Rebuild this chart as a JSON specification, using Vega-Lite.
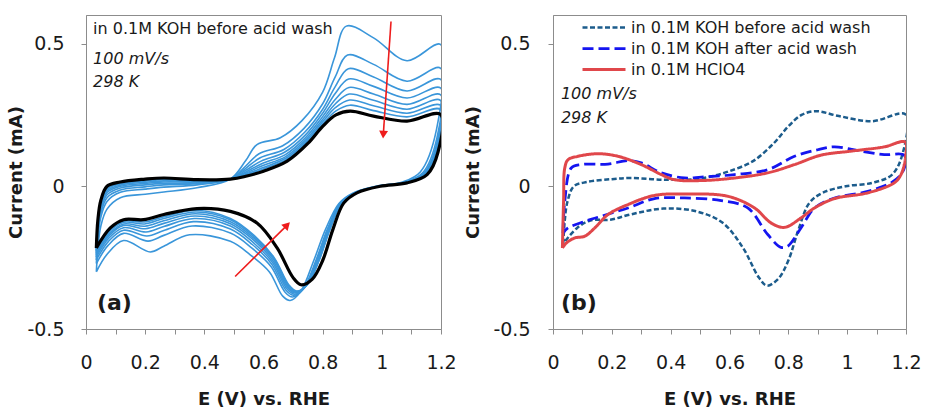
{
"$schema":"https://vega.github.io/schema/vega-lite/v6.json",
"padding":{"left":7,"top":14,"right":2,"bottom":0},
"spacing":7,
"config":{
 "font":"DejaVu Sans",
 "view":{"stroke":"#8c8c8c","strokeWidth":1},
 "axis":{"grid":false,"labelFlush":false,"domainColor":"#8c8c8c","tickColor":"#8c8c8c","tickSize":5,"labelFont":"DejaVu Sans","labelFontSize":19,"labelColor":"#1a1a1a","titleFont":"DejaVu Sans","titleFontSize":18,"titleFontWeight":"bold","titleColor":"#1a1a1a"},
 "legend":{"symbolType":"stroke","symbolSize":1849,"clipHeight":21,"rowPadding":0,"labelOffset":4,"labelFontSize":16,"labelFont":"DejaVu Sans","labelColor":"#1a1a1a","padding":0,"labelLimit":400}
},
"datasets":{
"cyc":[
{"c":"1","i":0,"x":0.035,"y":-0.3},{"c":"1","i":1,"x":0.04,"y":-0.22},{"c":"1","i":2,"x":0.05,"y":-0.14},{"c":"1","i":3,"x":0.071,"y":-0.08},{"c":"1","i":4,"x":0.116,"y":-0.04},{"c":"1","i":5,"x":0.2,"y":-0.028},{"c":"1","i":6,"x":0.263,"y":-0.02},{"c":"1","i":7,"x":0.375,"y":-0.005},{"c":"1","i":8,"x":0.488,"y":0.025},{"c":"1","i":9,"x":0.54,"y":0.09},{"c":"1","i":10,"x":0.578,"y":0.146},{"c":"1","i":11,"x":0.657,"y":0.17},{"c":"1","i":12,"x":0.73,"y":0.23},{"c":"1","i":13,"x":0.8,"y":0.33},{"c":"1","i":14,"x":0.84,"y":0.45},{"c":"1","i":15,"x":0.88,"y":0.561},{"c":"1","i":16,"x":0.972,"y":0.52},{"c":"1","i":17,"x":1.085,"y":0.44},{"c":"1","i":18,"x":1.198,"y":0.497},{"c":"1","i":19,"x":1.185,"y":0.2},{"c":"1","i":20,"x":1.13,"y":0.05},{"c":"1","i":21,"x":1.07,"y":0.015},{"c":"1","i":22,"x":0.98,"y":0},{"c":"1","i":23,"x":0.9,"y":-0.025},{"c":"1","i":24,"x":0.855,"y":-0.06},{"c":"1","i":25,"x":0.81,"y":-0.15},{"c":"1","i":26,"x":0.77,"y":-0.26},{"c":"1","i":27,"x":0.725,"y":-0.37},{"c":"1","i":28,"x":0.69,"y":-0.4},{"c":"1","i":29,"x":0.665,"y":-0.385},{"c":"1","i":30,"x":0.62,"y":-0.3},{"c":"1","i":31,"x":0.555,"y":-0.24},{"c":"1","i":32,"x":0.488,"y":-0.193},{"c":"1","i":33,"x":0.35,"y":-0.17},{"c":"1","i":34,"x":0.263,"y":-0.21},{"c":"1","i":35,"x":0.217,"y":-0.23},{"c":"1","i":36,"x":0.127,"y":-0.19},{"c":"1","i":37,"x":0.07,"y":-0.24},{"c":"1","i":38,"x":0.035,"y":-0.3},
{"c":"2","i":0,"x":0.035,"y":-0.271},{"c":"2","i":1,"x":0.04,"y":-0.186},{"c":"2","i":2,"x":0.05,"y":-0.109},{"c":"2","i":3,"x":0.071,"y":-0.053},{"c":"2","i":4,"x":0.116,"y":-0.021},{"c":"2","i":5,"x":0.2,"y":-0.01},{"c":"2","i":6,"x":0.263,"y":-0.003},{"c":"2","i":7,"x":0.375,"y":0.005},{"c":"2","i":8,"x":0.488,"y":0.025},{"c":"2","i":9,"x":0.54,"y":0.071},{"c":"2","i":10,"x":0.585,"y":0.114},{"c":"2","i":11,"x":0.665,"y":0.142},{"c":"2","i":12,"x":0.737,"y":0.203},{"c":"2","i":13,"x":0.8,"y":0.289},{"c":"2","i":14,"x":0.842,"y":0.382},{"c":"2","i":15,"x":0.884,"y":0.46},{"c":"2","i":16,"x":0.972,"y":0.427},{"c":"2","i":17,"x":1.085,"y":0.368},{"c":"2","i":18,"x":1.198,"y":0.414},{"c":"2","i":19,"x":1.187,"y":0.173},{"c":"2","i":20,"x":1.138,"y":0.047},{"c":"2","i":21,"x":1.075,"y":0.014},{"c":"2","i":22,"x":0.985,"y":0},{"c":"2","i":23,"x":0.905,"y":-0.024},{"c":"2","i":24,"x":0.859,"y":-0.059},{"c":"2","i":25,"x":0.816,"y":-0.15},{"c":"2","i":26,"x":0.777,"y":-0.26},{"c":"2","i":27,"x":0.734,"y":-0.36},{"c":"2","i":28,"x":0.698,"y":-0.388},{"c":"2","i":29,"x":0.673,"y":-0.371},{"c":"2","i":30,"x":0.626,"y":-0.282},{"c":"2","i":31,"x":0.56,"y":-0.216},{"c":"2","i":32,"x":0.488,"y":-0.164},{"c":"2","i":33,"x":0.359,"y":-0.139},{"c":"2","i":34,"x":0.263,"y":-0.172},{"c":"2","i":35,"x":0.21,"y":-0.192},{"c":"2","i":36,"x":0.127,"y":-0.165},{"c":"2","i":37,"x":0.074,"y":-0.208},{"c":"2","i":38,"x":0.035,"y":-0.271},
{"c":"3","i":0,"x":0.035,"y":-0.258},{"c":"3","i":1,"x":0.04,"y":-0.17},{"c":"3","i":2,"x":0.05,"y":-0.095},{"c":"3","i":3,"x":0.071,"y":-0.04},{"c":"3","i":4,"x":0.116,"y":-0.013},{"c":"3","i":5,"x":0.2,"y":-0.002},{"c":"3","i":6,"x":0.263,"y":0.005},{"c":"3","i":7,"x":0.375,"y":0.009},{"c":"3","i":8,"x":0.488,"y":0.025},{"c":"3","i":9,"x":0.54,"y":0.063},{"c":"3","i":10,"x":0.589,"y":0.1},{"c":"3","i":11,"x":0.669,"y":0.129},{"c":"3","i":12,"x":0.74,"y":0.19},{"c":"3","i":13,"x":0.8,"y":0.27},{"c":"3","i":14,"x":0.843,"y":0.35},{"c":"3","i":15,"x":0.887,"y":0.412},{"c":"3","i":16,"x":0.972,"y":0.383},{"c":"3","i":17,"x":1.085,"y":0.334},{"c":"3","i":18,"x":1.198,"y":0.375},{"c":"3","i":19,"x":1.188,"y":0.16},{"c":"3","i":20,"x":1.142,"y":0.046},{"c":"3","i":21,"x":1.078,"y":0.014},{"c":"3","i":22,"x":0.988,"y":0},{"c":"3","i":23,"x":0.908,"y":-0.024},{"c":"3","i":24,"x":0.86,"y":-0.059},{"c":"3","i":25,"x":0.818,"y":-0.15},{"c":"3","i":26,"x":0.78,"y":-0.26},{"c":"3","i":27,"x":0.738,"y":-0.356},{"c":"3","i":28,"x":0.702,"y":-0.382},{"c":"3","i":29,"x":0.676,"y":-0.364},{"c":"3","i":30,"x":0.628,"y":-0.273},{"c":"3","i":31,"x":0.562,"y":-0.204},{"c":"3","i":32,"x":0.488,"y":-0.15},{"c":"3","i":33,"x":0.363,"y":-0.124},{"c":"3","i":34,"x":0.263,"y":-0.155},{"c":"3","i":35,"x":0.206,"y":-0.174},{"c":"3","i":36,"x":0.127,"y":-0.154},{"c":"3","i":37,"x":0.076,"y":-0.193},{"c":"3","i":38,"x":0.035,"y":-0.258},
{"c":"4","i":0,"x":0.035,"y":-0.248},{"c":"4","i":1,"x":0.04,"y":-0.158},{"c":"4","i":2,"x":0.05,"y":-0.084},{"c":"4","i":3,"x":0.071,"y":-0.03},{"c":"4","i":4,"x":0.116,"y":-0.006},{"c":"4","i":5,"x":0.2,"y":0.005},{"c":"4","i":6,"x":0.263,"y":0.01},{"c":"4","i":7,"x":0.375,"y":0.012},{"c":"4","i":8,"x":0.488,"y":0.025},{"c":"4","i":9,"x":0.54,"y":0.056},{"c":"4","i":10,"x":0.592,"y":0.088},{"c":"4","i":11,"x":0.671,"y":0.119},{"c":"4","i":12,"x":0.742,"y":0.18},{"c":"4","i":13,"x":0.8,"y":0.256},{"c":"4","i":14,"x":0.843,"y":0.326},{"c":"4","i":15,"x":0.888,"y":0.376},{"c":"4","i":16,"x":0.972,"y":0.35},{"c":"4","i":17,"x":1.085,"y":0.309},{"c":"4","i":18,"x":1.198,"y":0.345},{"c":"4","i":19,"x":1.188,"y":0.15},{"c":"4","i":20,"x":1.144,"y":0.044},{"c":"4","i":21,"x":1.079,"y":0.013},{"c":"4","i":22,"x":0.989,"y":0},{"c":"4","i":23,"x":0.91,"y":-0.024},{"c":"4","i":24,"x":0.861,"y":-0.059},{"c":"4","i":25,"x":0.82,"y":-0.15},{"c":"4","i":26,"x":0.782,"y":-0.26},{"c":"4","i":27,"x":0.741,"y":-0.352},{"c":"4","i":28,"x":0.705,"y":-0.378},{"c":"4","i":29,"x":0.679,"y":-0.359},{"c":"4","i":30,"x":0.63,"y":-0.266},{"c":"4","i":31,"x":0.564,"y":-0.196},{"c":"4","i":32,"x":0.488,"y":-0.139},{"c":"4","i":33,"x":0.366,"y":-0.113},{"c":"4","i":34,"x":0.263,"y":-0.141},{"c":"4","i":35,"x":0.203,"y":-0.16},{"c":"4","i":36,"x":0.127,"y":-0.145},{"c":"4","i":37,"x":0.077,"y":-0.182},{"c":"4","i":38,"x":0.035,"y":-0.248},
{"c":"5","i":0,"x":0.035,"y":-0.24},{"c":"5","i":1,"x":0.04,"y":-0.148},{"c":"5","i":2,"x":0.05,"y":-0.075},{"c":"5","i":3,"x":0.071,"y":-0.022},{"c":"5","i":4,"x":0.116,"y":0},{"c":"5","i":5,"x":0.2,"y":0.01},{"c":"5","i":6,"x":0.263,"y":0.015},{"c":"5","i":7,"x":0.375,"y":0.015},{"c":"5","i":8,"x":0.488,"y":0.025},{"c":"5","i":9,"x":0.54,"y":0.05},{"c":"5","i":10,"x":0.594,"y":0.079},{"c":"5","i":11,"x":0.674,"y":0.111},{"c":"5","i":12,"x":0.744,"y":0.172},{"c":"5","i":13,"x":0.8,"y":0.244},{"c":"5","i":14,"x":0.844,"y":0.306},{"c":"5","i":15,"x":0.889,"y":0.346},{"c":"5","i":16,"x":0.972,"y":0.323},{"c":"5","i":17,"x":1.085,"y":0.287},{"c":"5","i":18,"x":1.198,"y":0.321},{"c":"5","i":19,"x":1.189,"y":0.142},{"c":"5","i":20,"x":1.147,"y":0.044},{"c":"5","i":21,"x":1.081,"y":0.013},{"c":"5","i":22,"x":0.991,"y":0},{"c":"5","i":23,"x":0.912,"y":-0.024},{"c":"5","i":24,"x":0.863,"y":-0.059},{"c":"5","i":25,"x":0.822,"y":-0.15},{"c":"5","i":26,"x":0.784,"y":-0.26},{"c":"5","i":27,"x":0.744,"y":-0.349},{"c":"5","i":28,"x":0.707,"y":-0.374},{"c":"5","i":29,"x":0.681,"y":-0.354},{"c":"5","i":30,"x":0.632,"y":-0.261},{"c":"5","i":31,"x":0.566,"y":-0.188},{"c":"5","i":32,"x":0.488,"y":-0.131},{"c":"5","i":33,"x":0.368,"y":-0.104},{"c":"5","i":34,"x":0.263,"y":-0.13},{"c":"5","i":35,"x":0.201,"y":-0.149},{"c":"5","i":36,"x":0.127,"y":-0.137},{"c":"5","i":37,"x":0.079,"y":-0.172},{"c":"5","i":38,"x":0.035,"y":-0.24},
{"c":"6","i":0,"x":0.035,"y":-0.233},{"c":"6","i":1,"x":0.04,"y":-0.14},{"c":"6","i":2,"x":0.05,"y":-0.068},{"c":"6","i":3,"x":0.071,"y":-0.016},{"c":"6","i":4,"x":0.116,"y":0.004},{"c":"6","i":5,"x":0.2,"y":0.014},{"c":"6","i":6,"x":0.263,"y":0.019},{"c":"6","i":7,"x":0.375,"y":0.017},{"c":"6","i":8,"x":0.488,"y":0.025},{"c":"6","i":9,"x":0.54,"y":0.046},{"c":"6","i":10,"x":0.596,"y":0.072},{"c":"6","i":11,"x":0.675,"y":0.104},{"c":"6","i":12,"x":0.746,"y":0.166},{"c":"6","i":13,"x":0.8,"y":0.234},{"c":"6","i":14,"x":0.844,"y":0.29},{"c":"6","i":15,"x":0.89,"y":0.323},{"c":"6","i":16,"x":0.972,"y":0.301},{"c":"6","i":17,"x":1.085,"y":0.27},{"c":"6","i":18,"x":1.198,"y":0.301},{"c":"6","i":19,"x":1.189,"y":0.136},{"c":"6","i":20,"x":1.148,"y":0.043},{"c":"6","i":21,"x":1.082,"y":0.013},{"c":"6","i":22,"x":0.992,"y":0},{"c":"6","i":23,"x":0.913,"y":-0.024},{"c":"6","i":24,"x":0.863,"y":-0.059},{"c":"6","i":25,"x":0.823,"y":-0.15},{"c":"6","i":26,"x":0.786,"y":-0.26},{"c":"6","i":27,"x":0.746,"y":-0.347},{"c":"6","i":28,"x":0.709,"y":-0.371},{"c":"6","i":29,"x":0.683,"y":-0.351},{"c":"6","i":30,"x":0.634,"y":-0.256},{"c":"6","i":31,"x":0.567,"y":-0.182},{"c":"6","i":32,"x":0.488,"y":-0.124},{"c":"6","i":33,"x":0.37,"y":-0.096},{"c":"6","i":34,"x":0.263,"y":-0.121},{"c":"6","i":35,"x":0.199,"y":-0.14},{"c":"6","i":36,"x":0.127,"y":-0.132},{"c":"6","i":37,"x":0.08,"y":-0.165},{"c":"6","i":38,"x":0.035,"y":-0.233},
{"c":"7","i":0,"x":0.035,"y":-0.227},{"c":"7","i":1,"x":0.04,"y":-0.133},{"c":"7","i":2,"x":0.05,"y":-0.062},{"c":"7","i":3,"x":0.071,"y":-0.01},{"c":"7","i":4,"x":0.116,"y":0.008},{"c":"7","i":5,"x":0.2,"y":0.018},{"c":"7","i":6,"x":0.263,"y":0.023},{"c":"7","i":7,"x":0.375,"y":0.019},{"c":"7","i":8,"x":0.488,"y":0.025},{"c":"7","i":9,"x":0.54,"y":0.042},{"c":"7","i":10,"x":0.597,"y":0.065},{"c":"7","i":11,"x":0.677,"y":0.099},{"c":"7","i":12,"x":0.747,"y":0.16},{"c":"7","i":13,"x":0.8,"y":0.226},{"c":"7","i":14,"x":0.844,"y":0.276},{"c":"7","i":15,"x":0.891,"y":0.302},{"c":"7","i":16,"x":0.972,"y":0.282},{"c":"7","i":17,"x":1.085,"y":0.256},{"c":"7","i":18,"x":1.198,"y":0.284},{"c":"7","i":19,"x":1.189,"y":0.13},{"c":"7","i":20,"x":1.15,"y":0.042},{"c":"7","i":21,"x":1.083,"y":0.012},{"c":"7","i":22,"x":0.993,"y":0},{"c":"7","i":23,"x":0.914,"y":-0.024},{"c":"7","i":24,"x":0.864,"y":-0.059},{"c":"7","i":25,"x":0.824,"y":-0.15},{"c":"7","i":26,"x":0.787,"y":-0.26},{"c":"7","i":27,"x":0.748,"y":-0.344},{"c":"7","i":28,"x":0.711,"y":-0.369},{"c":"7","i":29,"x":0.685,"y":-0.348},{"c":"7","i":30,"x":0.635,"y":-0.252},{"c":"7","i":31,"x":0.568,"y":-0.177},{"c":"7","i":32,"x":0.488,"y":-0.117},{"c":"7","i":33,"x":0.372,"y":-0.09},{"c":"7","i":34,"x":0.263,"y":-0.113},{"c":"7","i":35,"x":0.198,"y":-0.132},{"c":"7","i":36,"x":0.127,"y":-0.126},{"c":"7","i":37,"x":0.08,"y":-0.158},{"c":"7","i":38,"x":0.035,"y":-0.227},
{"c":"8","i":0,"x":0.035,"y":-0.222},{"c":"8","i":1,"x":0.04,"y":-0.127},{"c":"8","i":2,"x":0.05,"y":-0.056},{"c":"8","i":3,"x":0.071,"y":-0.006},{"c":"8","i":4,"x":0.116,"y":0.011},{"c":"8","i":5,"x":0.2,"y":0.021},{"c":"8","i":6,"x":0.263,"y":0.026},{"c":"8","i":7,"x":0.375,"y":0.021},{"c":"8","i":8,"x":0.488,"y":0.025},{"c":"8","i":9,"x":0.54,"y":0.039},{"c":"8","i":10,"x":0.598,"y":0.06},{"c":"8","i":11,"x":0.678,"y":0.094},{"c":"8","i":12,"x":0.749,"y":0.156},{"c":"8","i":13,"x":0.8,"y":0.218},{"c":"8","i":14,"x":0.845,"y":0.264},{"c":"8","i":15,"x":0.892,"y":0.284},{"c":"8","i":16,"x":0.972,"y":0.265},{"c":"8","i":17,"x":1.085,"y":0.243},{"c":"8","i":18,"x":1.198,"y":0.269},{"c":"8","i":19,"x":1.19,"y":0.126},{"c":"8","i":20,"x":1.151,"y":0.042},{"c":"8","i":21,"x":1.084,"y":0.012},{"c":"8","i":22,"x":0.994,"y":0},{"c":"8","i":23,"x":0.915,"y":-0.024},{"c":"8","i":24,"x":0.865,"y":-0.059},{"c":"8","i":25,"x":0.825,"y":-0.15},{"c":"8","i":26,"x":0.788,"y":-0.26},{"c":"8","i":27,"x":0.749,"y":-0.343},{"c":"8","i":28,"x":0.712,"y":-0.367},{"c":"8","i":29,"x":0.686,"y":-0.346},{"c":"8","i":30,"x":0.636,"y":-0.25},{"c":"8","i":31,"x":0.569,"y":-0.173},{"c":"8","i":32,"x":0.488,"y":-0.113},{"c":"8","i":33,"x":0.373,"y":-0.084},{"c":"8","i":34,"x":0.263,"y":-0.107},{"c":"8","i":35,"x":0.197,"y":-0.125},{"c":"8","i":36,"x":0.127,"y":-0.122},{"c":"8","i":37,"x":0.081,"y":-0.153},{"c":"8","i":38,"x":0.035,"y":-0.222},
{"c":"k","i":0,"x":0.035,"y":-0.216},{"c":"k","i":1,"x":0.04,"y":-0.12},{"c":"k","i":2,"x":0.05,"y":-0.05},{"c":"k","i":3,"x":0.071,"y":0},{"c":"k","i":4,"x":0.116,"y":0.015},{"c":"k","i":5,"x":0.2,"y":0.025},{"c":"k","i":6,"x":0.263,"y":0.029},{"c":"k","i":7,"x":0.375,"y":0.023},{"c":"k","i":8,"x":0.488,"y":0.025},{"c":"k","i":9,"x":0.54,"y":0.035},{"c":"k","i":10,"x":0.6,"y":0.053},{"c":"k","i":11,"x":0.68,"y":0.088},{"c":"k","i":12,"x":0.75,"y":0.15},{"c":"k","i":13,"x":0.8,"y":0.21},{"c":"k","i":14,"x":0.845,"y":0.25},{"c":"k","i":15,"x":0.893,"y":0.263},{"c":"k","i":16,"x":0.972,"y":0.246},{"c":"k","i":17,"x":1.085,"y":0.228},{"c":"k","i":18,"x":1.198,"y":0.252},{"c":"k","i":19,"x":1.19,"y":0.12},{"c":"k","i":20,"x":1.153,"y":0.041},{"c":"k","i":21,"x":1.085,"y":0.012},{"c":"k","i":22,"x":0.995,"y":0},{"c":"k","i":23,"x":0.916,"y":-0.023},{"c":"k","i":24,"x":0.871,"y":-0.059},{"c":"k","i":25,"x":0.835,"y":-0.15},{"c":"k","i":26,"x":0.8,"y":-0.26},{"c":"k","i":27,"x":0.765,"y":-0.325},{"c":"k","i":28,"x":0.727,"y":-0.345},{"c":"k","i":29,"x":0.7,"y":-0.32},{"c":"k","i":30,"x":0.646,"y":-0.216},{"c":"k","i":31,"x":0.578,"y":-0.129},{"c":"k","i":32,"x":0.488,"y":-0.088},{"c":"k","i":33,"x":0.375,"y":-0.078},{"c":"k","i":34,"x":0.263,"y":-0.099},{"c":"k","i":35,"x":0.195,"y":-0.117},{"c":"k","i":36,"x":0.127,"y":-0.117},{"c":"k","i":37,"x":0.082,"y":-0.146},{"c":"k","i":38,"x":0.035,"y":-0.216}
],
"cmp":[
{"s":"b","i":0,"x":0.035,"y":-0.2},{"s":"b","i":1,"x":0.04,"y":-0.12},{"s":"b","i":2,"x":0.05,"y":-0.05},{"s":"b","i":3,"x":0.071,"y":0},{"s":"b","i":4,"x":0.116,"y":0.015},{"s":"b","i":5,"x":0.2,"y":0.025},{"s":"b","i":6,"x":0.263,"y":0.029},{"s":"b","i":7,"x":0.375,"y":0.023},{"s":"b","i":8,"x":0.488,"y":0.025},{"s":"b","i":9,"x":0.54,"y":0.035},{"s":"b","i":10,"x":0.6,"y":0.053},{"s":"b","i":11,"x":0.68,"y":0.088},{"s":"b","i":12,"x":0.75,"y":0.15},{"s":"b","i":13,"x":0.8,"y":0.21},{"s":"b","i":14,"x":0.845,"y":0.25},{"s":"b","i":15,"x":0.893,"y":0.263},{"s":"b","i":16,"x":0.972,"y":0.246},{"s":"b","i":17,"x":1.085,"y":0.228},{"s":"b","i":18,"x":1.198,"y":0.252},{"s":"b","i":19,"x":1.19,"y":0.12},{"s":"b","i":20,"x":1.153,"y":0.041},{"s":"b","i":21,"x":1.085,"y":0.012},{"s":"b","i":22,"x":0.995,"y":0},{"s":"b","i":23,"x":0.916,"y":-0.023},{"s":"b","i":24,"x":0.871,"y":-0.059},{"s":"b","i":25,"x":0.835,"y":-0.15},{"s":"b","i":26,"x":0.8,"y":-0.26},{"s":"b","i":27,"x":0.765,"y":-0.325},{"s":"b","i":28,"x":0.727,"y":-0.348},{"s":"b","i":29,"x":0.7,"y":-0.32},{"s":"b","i":30,"x":0.646,"y":-0.216},{"s":"b","i":31,"x":0.578,"y":-0.129},{"s":"b","i":32,"x":0.488,"y":-0.088},{"s":"b","i":33,"x":0.375,"y":-0.078},{"s":"b","i":34,"x":0.263,"y":-0.099},{"s":"b","i":35,"x":0.195,"y":-0.117},{"s":"b","i":36,"x":0.127,"y":-0.12},{"s":"b","i":37,"x":0.082,"y":-0.146},{"s":"b","i":38,"x":0.035,"y":-0.2},
{"s":"a","i":0,"x":0.034,"y":-0.164},{"s":"a","i":1,"x":0.04,"y":-0.053},{"s":"a","i":2,"x":0.062,"y":0.064},{"s":"a","i":3,"x":0.096,"y":0.076},{"s":"a","i":4,"x":0.187,"y":0.078},{"s":"a","i":5,"x":0.255,"y":0.09},{"s":"a","i":6,"x":0.3,"y":0.082},{"s":"a","i":7,"x":0.368,"y":0.047},{"s":"a","i":8,"x":0.447,"y":0.029},{"s":"a","i":9,"x":0.504,"y":0.032},{"s":"a","i":10,"x":0.617,"y":0.041},{"s":"a","i":11,"x":0.73,"y":0.058},{"s":"a","i":12,"x":0.821,"y":0.105},{"s":"a","i":13,"x":0.9,"y":0.128},{"s":"a","i":14,"x":0.957,"y":0.138},{"s":"a","i":15,"x":1.047,"y":0.123},{"s":"a","i":16,"x":1.126,"y":0.111},{"s":"a","i":17,"x":1.194,"y":0.109},{"s":"a","i":18,"x":1.197,"y":0.076},{"s":"a","i":19,"x":1.183,"y":0.041},{"s":"a","i":20,"x":1.149,"y":0.012},{"s":"a","i":21,"x":1.07,"y":-0.018},{"s":"a","i":22,"x":0.957,"y":-0.041},{"s":"a","i":23,"x":0.889,"y":-0.076},{"s":"a","i":24,"x":0.843,"y":-0.146},{"s":"a","i":25,"x":0.798,"y":-0.21},{"s":"a","i":26,"x":0.775,"y":-0.214},{"s":"a","i":27,"x":0.73,"y":-0.169},{"s":"a","i":28,"x":0.662,"y":-0.076},{"s":"a","i":29,"x":0.572,"y":-0.05},{"s":"a","i":30,"x":0.447,"y":-0.041},{"s":"a","i":31,"x":0.345,"y":-0.043},{"s":"a","i":32,"x":0.255,"y":-0.076},{"s":"a","i":33,"x":0.164,"y":-0.105},{"s":"a","i":34,"x":0.108,"y":-0.123},{"s":"a","i":35,"x":0.051,"y":-0.146},{"s":"a","i":36,"x":0.034,"y":-0.164},
{"s":"h","i":0,"x":0.032,"y":-0.216},{"s":"h","i":1,"x":0.036,"y":-0.05},{"s":"h","i":2,"x":0.04,"y":0.064},{"s":"h","i":3,"x":0.051,"y":0.093},{"s":"h","i":4,"x":0.085,"y":0.105},{"s":"h","i":5,"x":0.153,"y":0.114},{"s":"h","i":6,"x":0.221,"y":0.105},{"s":"h","i":7,"x":0.3,"y":0.076},{"s":"h","i":8,"x":0.368,"y":0.041},{"s":"h","i":9,"x":0.413,"y":0.023},{"s":"h","i":10,"x":0.504,"y":0.02},{"s":"h","i":11,"x":0.617,"y":0.029},{"s":"h","i":12,"x":0.73,"y":0.047},{"s":"h","i":13,"x":0.821,"y":0.076},{"s":"h","i":14,"x":0.911,"y":0.109},{"s":"h","i":15,"x":1.013,"y":0.123},{"s":"h","i":16,"x":1.126,"y":0.138},{"s":"h","i":17,"x":1.197,"y":0.155},{"s":"h","i":18,"x":1.198,"y":0.099},{"s":"h","i":19,"x":1.183,"y":0.041},{"s":"h","i":20,"x":1.16,"y":0.012},{"s":"h","i":21,"x":1.07,"y":-0.023},{"s":"h","i":22,"x":0.957,"y":-0.043},{"s":"h","i":23,"x":0.889,"y":-0.076},{"s":"h","i":24,"x":0.843,"y":-0.111},{"s":"h","i":25,"x":0.787,"y":-0.144},{"s":"h","i":26,"x":0.742,"y":-0.129},{"s":"h","i":27,"x":0.685,"y":-0.076},{"s":"h","i":28,"x":0.594,"y":-0.035},{"s":"h","i":29,"x":0.447,"y":-0.027},{"s":"h","i":30,"x":0.345,"y":-0.032},{"s":"h","i":31,"x":0.255,"y":-0.064},{"s":"h","i":32,"x":0.187,"y":-0.099},{"s":"h","i":33,"x":0.142,"y":-0.146},{"s":"h","i":34,"x":0.108,"y":-0.175},{"s":"h","i":35,"x":0.074,"y":-0.181},{"s":"h","i":36,"x":0.045,"y":-0.199},{"s":"h","i":37,"x":0.032,"y":-0.216}
]
},
"hconcat":[
{
 "width":355,"height":314,
 "encoding":{
  "x":{"field":"x","type":"quantitative","scale":{"domain":[0,1.2],"nice":false,"zero":false,"padding":0},"axis":{"values":[0,0.1,0.2,0.3,0.4,0.5,0.6,0.7,0.8,0.9,1,1.1,1.2],"labelExpr":"abs(datum.value*5 - round(datum.value*5)) < 0.001 ? toString(datum.value) : ''","labelPadding":19,"title":"E (V) vs. RHE","titlePadding":18}},
  "y":{"field":"y","type":"quantitative","scale":{"domain":[-0.5,0.6],"nice":false,"zero":false,"padding":0},"axis":{"values":[-0.5,0,0.5],"labelExpr":"toString(datum.value)","labelPadding":17,"title":"Current (mA)","titlePadding":1}}
 },
 "layer":[
  {"data":{"name":"cyc"},"transform":[{"filter":"datum.c != 'k'"}],"mark":{"type":"line","interpolate":"catmull-rom","color":"#3A96DA","strokeWidth":1.6,"clip":true},"encoding":{"detail":{"field":"c"},"order":{"field":"i","type":"quantitative"}}},
  {"data":{"name":"cyc"},"transform":[{"filter":"datum.c == 'k'"}],"mark":{"type":"line","interpolate":"catmull-rom","color":"#000000","strokeWidth":3.2,"clip":true},"encoding":{"order":{"field":"i","type":"quantitative"}}},
  {"data":{"values":[{"x":1.031,"y":0.577,"x2":1.005,"y2":0.181},{"x":0.504,"y":-0.316,"x2":0.68,"y2":-0.136}]},"mark":{"type":"rule","color":"#EE1C1C","strokeWidth":1.6},"encoding":{"x2":{"field":"x2"},"y2":{"field":"y2"}}},
  {"data":{"values":[{"x":1.005,"y":0.181}]},"mark":{"type":"point","shape":"triangle-up","filled":true,"size":80,"angle":184,"color":"#EE1C1C","opacity":1},"encoding":{}},
  {"data":{"values":[{"x":0.68,"y":-0.136}]},"mark":{"type":"point","shape":"triangle-up","filled":true,"size":80,"angle":45,"color":"#EE1C1C","opacity":1},"encoding":{}},
  {"data":{"values":[{"x":0.024,"y":0.551,"t":"in 0.1M KOH before acid wash"}]},"mark":{"type":"text","align":"left","baseline":"middle","fontSize":16,"color":"#1a1a1a"},"encoding":{"text":{"field":"t"}}},
  {"data":{"values":[{"x":0.024,"y":0.446,"t":"100 mV/s"},{"x":0.024,"y":0.365,"t":"298 K"}]},"mark":{"type":"text","align":"left","baseline":"middle","fontSize":16,"fontStyle":"italic","color":"#1a1a1a"},"encoding":{"text":{"field":"t"}}},
  {"data":{"values":[{"x":0.037,"y":-0.41,"t":"(a)"}]},"mark":{"type":"text","align":"left","baseline":"middle","fontSize":22,"fontWeight":"bold","color":"#1a1a1a"},"encoding":{"text":{"field":"t"}}}
 ]
},
{
 "width":353,"height":314,
 "encoding":{
  "x":{"field":"x","type":"quantitative","scale":{"domain":[0,1.2],"nice":false,"zero":false,"padding":0},"axis":{"values":[0,0.1,0.2,0.3,0.4,0.5,0.6,0.7,0.8,0.9,1,1.1,1.2],"labelExpr":"abs(datum.value*5 - round(datum.value*5)) < 0.001 ? toString(datum.value) : ''","labelPadding":19,"title":"E (V) vs. RHE","titlePadding":18}},
  "y":{"field":"y","type":"quantitative","scale":{"domain":[-0.5,0.6],"nice":false,"zero":false,"padding":0},"axis":{"values":[-0.5,0,0.5],"labelExpr":"toString(datum.value)","labelPadding":18,"title":"Current (mA)","titlePadding":10}}
 },
 "layer":[
  {"data":{"name":"cmp"},"mark":{"type":"line","interpolate":"catmull-rom","clip":true},"encoding":{
    "color":{"field":"s","type":"nominal","scale":{"domain":["b","a","h"],"range":["#1C5C8C","#1515F0","#E0474B"]},"legend":{"title":null,"orient":"none","legendX":495,"legendY":2,"labelExpr":"datum.value == 'b' ? 'in 0.1M KOH before acid wash' : datum.value == 'a' ? 'in 0.1M KOH after acid wash' : 'in 0.1M HClO4'"}},
    "strokeDash":{"field":"s","type":"nominal","scale":{"domain":["b","a","h"],"range":[[5,2.5],[11,5],[1,0]]},"legend":{"title":null,"orient":"none","legendX":495,"legendY":2,"labelExpr":"datum.value == 'b' ? 'in 0.1M KOH before acid wash' : datum.value == 'a' ? 'in 0.1M KOH after acid wash' : 'in 0.1M HClO4'"}},
    "strokeWidth":{"field":"s","type":"nominal","scale":{"domain":["b","a","h"],"range":[2.5,3,2]},"legend":{"title":null,"orient":"none","legendX":495,"legendY":2,"labelExpr":"datum.value == 'b' ? 'in 0.1M KOH before acid wash' : datum.value == 'a' ? 'in 0.1M KOH after acid wash' : 'in 0.1M HClO4'"}},
    "order":{"field":"i","type":"quantitative"}}},
  {"data":{"values":[{"x":0.027,"y":0.323,"t":"100 mV/s"},{"x":0.027,"y":0.239,"t":"298 K"}]},"mark":{"type":"text","align":"left","baseline":"middle","fontSize":16,"fontStyle":"italic","color":"#1a1a1a"},"encoding":{"text":{"field":"t"}}},
  {"data":{"values":[{"x":0.027,"y":-0.41,"t":"(b)"}]},"mark":{"type":"text","align":"left","baseline":"middle","fontSize":22,"fontWeight":"bold","color":"#1a1a1a"},"encoding":{"text":{"field":"t"}}}
 ]
}
]
}
